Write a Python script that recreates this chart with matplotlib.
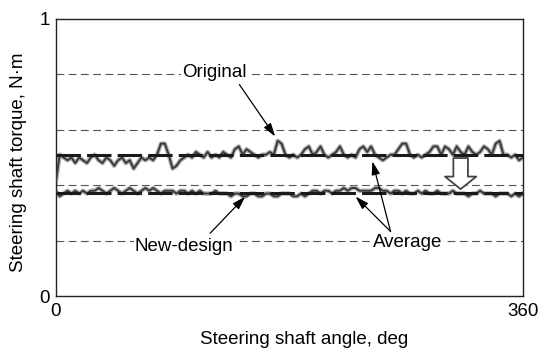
import matplotlib
matplotlib.use("Agg")
import numpy as np
import matplotlib.pyplot as plt

plt.rcParams['font.family'] = ['Liberation Sans', 'DejaVu Sans']

# steering shaft angle, deg (every 3 deg)
angle = np.arange(0, 361, 3)

# original design torque, N*m
original = [
    0.41, 0.51, 0.50, 0.49, 0.50, 0.48, 0.50, 0.49, 0.48, 0.50,
    0.51, 0.49, 0.48, 0.50, 0.49, 0.47, 0.49, 0.50, 0.48, 0.49,
    0.46, 0.48, 0.50, 0.49, 0.50, 0.49, 0.51, 0.55, 0.55, 0.51,
    0.46, 0.47, 0.49, 0.50, 0.51, 0.50, 0.52, 0.51, 0.50, 0.52,
    0.50, 0.51, 0.50, 0.52, 0.51, 0.50, 0.53, 0.54, 0.51, 0.53,
    0.52, 0.51, 0.50, 0.51, 0.51, 0.52, 0.51, 0.56, 0.55, 0.51,
    0.50, 0.51, 0.50, 0.51, 0.53, 0.54, 0.51, 0.52, 0.54, 0.51,
    0.50, 0.51, 0.52, 0.54, 0.51, 0.50, 0.51, 0.50, 0.53, 0.54,
    0.52, 0.54, 0.51, 0.50, 0.49, 0.50, 0.51, 0.51, 0.53, 0.55,
    0.55, 0.51, 0.50, 0.51, 0.50, 0.51, 0.52, 0.54, 0.54, 0.51,
    0.54, 0.53, 0.51, 0.54, 0.52, 0.51, 0.54, 0.52, 0.51, 0.52,
    0.54, 0.53, 0.51, 0.55, 0.56, 0.51, 0.51, 0.50, 0.51, 0.49,
    0.50,
]

# new design torque, N*m
new_design = [
    0.38, 0.36, 0.37, 0.38, 0.37, 0.38, 0.37, 0.38, 0.37, 0.38,
    0.38, 0.39, 0.38, 0.37, 0.38, 0.39, 0.38, 0.37, 0.38, 0.39,
    0.38, 0.37, 0.38, 0.39, 0.38, 0.39, 0.38, 0.37, 0.38, 0.38,
    0.38, 0.37, 0.38, 0.38, 0.37, 0.38, 0.37, 0.38, 0.37, 0.37,
    0.37, 0.38, 0.37, 0.37, 0.37, 0.36, 0.37, 0.37, 0.36, 0.36,
    0.37, 0.37, 0.36, 0.36, 0.37, 0.37, 0.36, 0.36, 0.37, 0.37,
    0.37, 0.36, 0.36, 0.37, 0.36, 0.37, 0.38, 0.38, 0.37, 0.38,
    0.38, 0.37, 0.38, 0.38, 0.39, 0.38, 0.39, 0.39, 0.38, 0.38,
    0.38, 0.38, 0.39, 0.39, 0.38, 0.38, 0.37, 0.38, 0.38, 0.37,
    0.38, 0.37, 0.37, 0.38, 0.37, 0.38, 0.37, 0.37, 0.38, 0.37,
    0.37, 0.37, 0.38, 0.37, 0.37, 0.37, 0.36, 0.37, 0.37, 0.38,
    0.37, 0.37, 0.37, 0.36, 0.37, 0.37, 0.37, 0.36, 0.37, 0.36,
    0.37,
]

avg_original = 0.508
avg_new = 0.373
grid_levels = [0.2, 0.4, 0.6, 0.8]

FS = 13.5

fig = plt.figure(figsize=(5.47, 3.5), dpi=100)
ax = fig.add_axes([0.102, 0.154, 0.854, 0.792])

for g in grid_levels:
    ax.axhline(g, color='#555555', lw=0.8, dashes=(7, 4), zorder=1)

# grey halo under each trace, like the scanned original
for series in (original, new_design):
    ax.plot(angle, series, color='#b0b0b0', lw=3.2, zorder=2, solid_joinstyle='round')
    ax.plot(angle, series, color='#3a3a3a', lw=1.4, zorder=3, solid_joinstyle='round')
ax.axhline(avg_original, color='#1a1a1a', lw=2.2, dashes=(8, 2), zorder=4)
ax.axhline(avg_new, color='#1a1a1a', lw=2.2, dashes=(8, 2), zorder=4)

ax.set_xlim(0, 360)
ax.set_ylim(0, 1)
ax.set_xticks([0, 360])
ax.set_yticks([0, 1])
ax.tick_params(length=0, labelsize=FS)
ax.tick_params(axis='x', pad=5)
ax.tick_params(axis='y', pad=4)
for s in ax.spines.values():
    s.set_linewidth(1.0)
    s.set_color('#222222')

fig.text(304 / 547, 1 - 339 / 350, 'Steering shaft angle, deg', fontsize=FS,
         ha='center', va='center')
fig.text(19 / 547, 1 - 162 / 350, 'Steering shaft torque, N\u00b7m', fontsize=FS,
         ha='center', va='center', rotation=90)

box = dict(facecolor='white', edgecolor='none', pad=1)
thin = dict(arrowstyle='-|>,head_length=0.8,head_width=0.25', color='black',
            lw=0.9, mutation_scale=10, shrinkA=0, shrinkB=0)

ax.text(122, 0.808, 'Original', fontsize=FS, ha='center', va='center', bbox=box, zorder=5)
ax.annotate('', xy=(169, 0.576), xytext=(141.5, 0.763), arrowprops=thin, zorder=5)

ax.text(99, 0.178, 'New-design', fontsize=FS, ha='center', va='center', bbox=box, zorder=5)
ax.annotate('', xy=(146, 0.359), xytext=(119, 0.227), arrowprops=thin, zorder=5)

ax.text(271, 0.193, 'Average', fontsize=FS, ha='center', va='center', bbox=box, zorder=5)
ax.annotate('', xy=(244, 0.486), xytext=(258, 0.233), arrowprops=thin, zorder=5)
ax.annotate('', xy=(231, 0.359), xytext=(258, 0.233), arrowprops=thin, zorder=5)

# hollow arrow showing the torque reduction
ax.annotate('', xy=(312, 0.386), xytext=(312, 0.498),
            arrowprops=dict(arrowstyle='simple,head_length=0.6,head_width=1.5,tail_width=0.7',
                            fc='white', ec='#444444', lw=1.3, mutation_scale=15,
                            shrinkA=0, shrinkB=0), zorder=6)

fig.savefig('out.png', dpi=100)
